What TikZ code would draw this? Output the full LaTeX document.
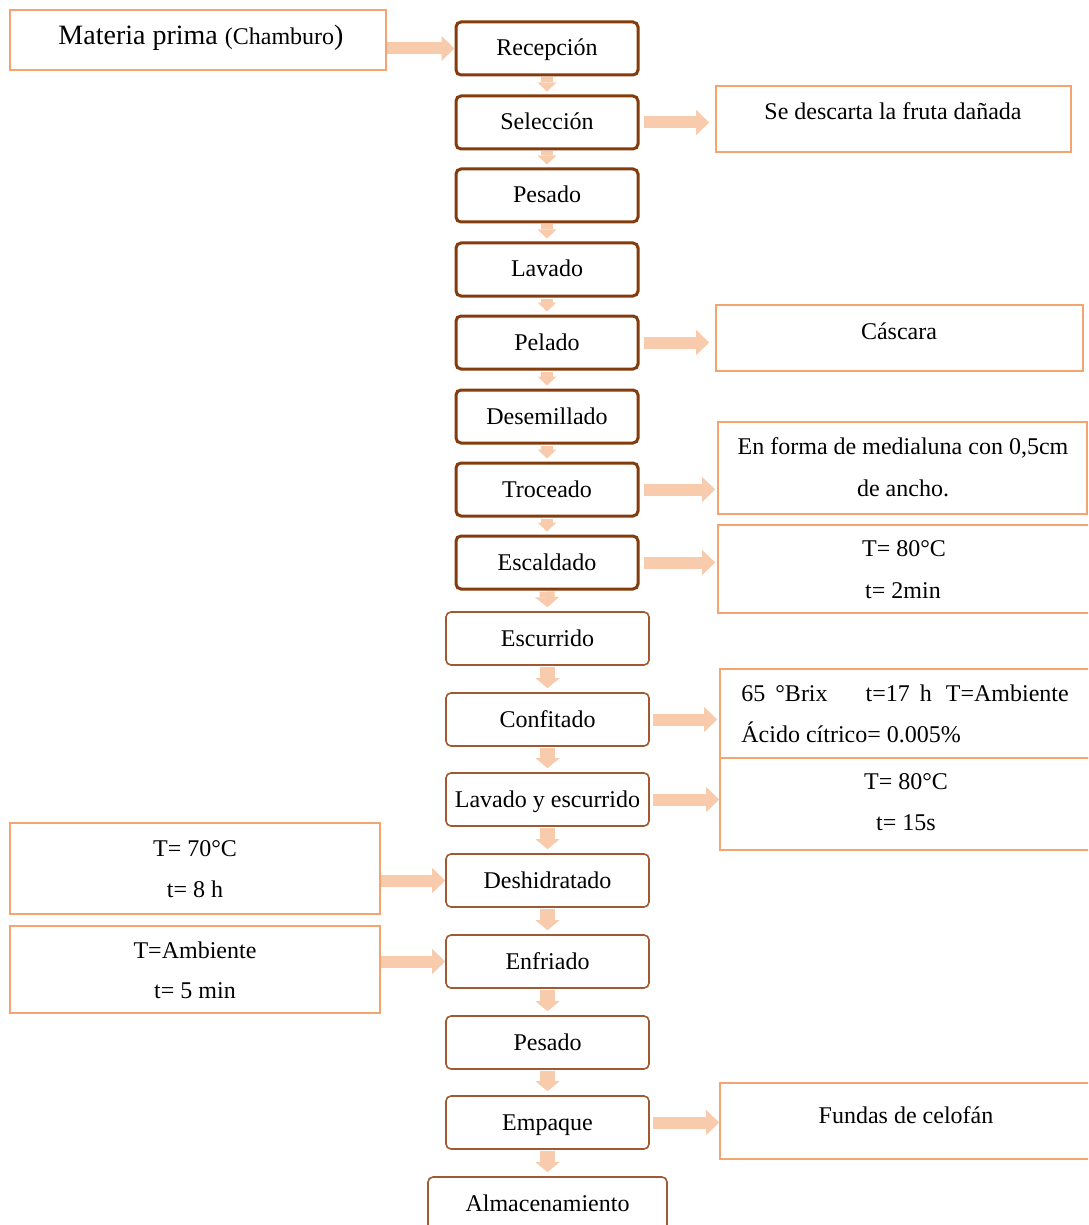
\documentclass[tikz,border=0pt]{standalone}
\usepackage{fontspec}
\setmainfont{Liberation Serif}
\usetikzlibrary{arrows.meta}
\definecolor{arrowc}{RGB}{248,203,173}
\definecolor{orangeb}{RGB}{244,164,110}
\definecolor{brownk}{RGB}{132,60,12}
\definecolor{brownl}{RGB}{160,90,50}
\begin{document}
\begin{tikzpicture}[x=0.5pt,y=-0.5pt,
  fnt/.style={font=\fontsize{12}{14}\selectfont},
  mainbox/.style={fnt, draw=brownk, line width=1.5pt, rounded corners=2.5pt,
    minimum width=91pt, minimum height=26.5pt, inner sep=0pt,
    text height=9.5pt, text depth=2pt},
  thinbox/.style={fnt, draw=brownl, line width=0.8pt, rounded corners=2.5pt,
    minimum width=101.5pt, minimum height=26.5pt, inner sep=0pt,
    text height=9.5pt, text depth=2pt},
  sidebox/.style={draw=orangeb, line width=0.8pt, inner sep=0pt},
  txt/.style={fnt, inner sep=0pt, anchor=base},
  harrow/.style={draw=arrowc, line width=6pt,
    -{Triangle[width=12.5pt,length=6.5pt,line width=0pt]}},
  varrow/.style={draw=arrowc, line width=6pt,
    -{Triangle[width=9.5pt,length=4.5pt,line width=0pt]}},
  varrowb/.style={draw=arrowc, line width=7.5pt,
    -{Triangle[width=12pt,length=5pt,line width=0pt]}},
]
\clip (0,0) rectangle (1088,1225);
\fill[white] (0,0) rectangle (1088,1225);

% main column
\node[mainbox] (r1) at (547,48.5) {Recepción};
\node[mainbox] (r2) at (547,122.5) {Selección};
\node[mainbox] (r3) at (547,195.5) {Pesado};
\node[mainbox] (r4) at (547,269.5) {Lavado};
\node[mainbox] (r5) at (547,342.5) {Pelado};
\node[mainbox] (r6) at (547,416.5) {Desemillado};
\node[mainbox] (r7) at (547,489.5) {Troceado};
\node[mainbox] (r8) at (547,562.5) {Escaldado};
\node[thinbox] (r9) at (547.5,638.5) {Escurrido};
\node[thinbox] (r10) at (547.5,719.5) {Confitado};
\node[thinbox] (r11) at (547.5,799.5) {Lavado y escurrido};
\node[thinbox] (r12) at (547.5,880.5) {Deshidratado};
\node[thinbox] (r13) at (547.5,961.5) {Enfriado};
\node[thinbox] (r14) at (547.5,1042.5) {Pesado};
\node[thinbox] (r15) at (547.5,1122.5) {Empaque};
\node[thinbox, minimum width=119.5pt] (r16) at (547.5,1203.5) {Almacenamiento};

% side boxes
\node[sidebox, minimum width=188pt, minimum height=30pt] (smat) at (198,40) {};
\node[sidebox, minimum width=177.5pt, minimum height=33pt] (sdesc) at (893.5,119) {};
\node[sidebox, minimum width=183.5pt, minimum height=33pt] (scasc) at (899.5,338) {};
\node[sidebox, minimum width=184.5pt, minimum height=46pt] (stroc) at (902.5,468) {};
\node[sidebox, minimum width=189pt, minimum height=44pt] (sesc) at (907,569) {};
\node[sidebox, minimum width=188pt, minimum height=44.5pt] (sconf) at (908,713.5) {};
\node[sidebox, minimum width=188pt, minimum height=46pt] (slav) at (908,804) {};
\node[sidebox, minimum width=185pt, minimum height=45.5pt] (sdesh) at (195,868.5) {};
\node[sidebox, minimum width=185pt, minimum height=43.5pt] (senf) at (195,969.5) {};
\node[sidebox, minimum width=188pt, minimum height=38pt] (semp) at (908,1121) {};

% side texts
\node[txt] (tmat) at (201,45) {\fontsize{14}{16}\selectfont Materia prima \fontsize{12}{14}\selectfont(Chamburo\fontsize{14}{16}\selectfont)};
\node[txt] (tdesc) at (893,120) {Se descarta la fruta dañada};
\node[txt] (tcasc) at (899,339) {Cáscara};
\node[txt] (ttroc1) at (903,454) {En forma de medialuna con 0,5cm};
\node[txt] (ttroc2) at (903,496) {de ancho.};
\node[txt] (tesc1) at (904,556) {T= 80°C};
\node[txt] (tesc2) at (903,598) {t= 2min};
\node[txt, anchor=base west] (tconf1) at (741,701) {65\hspace{5pt}°Brix\hspace{19pt}t=17\hspace{5pt}h\hspace{7pt}T=Ambiente};
\node[txt, anchor=base west] (tconf2) at (741,742) {Ácido cítrico= 0.005\%};
\node[txt] (tlav1) at (906,789) {T= 80°C};
\node[txt] (tlav2) at (906,830) {t= 15s};
\node[txt] (tdesh1) at (195,856) {T= 70°C};
\node[txt] (tdesh2) at (195,897) {t= 8 h};
\node[txt] (tenf1) at (195,958) {T=Ambiente};
\node[txt] (tenf2) at (195,998) {t= 5 min};
\node[txt] (temp) at (906,1123) {Fundas de celofán};

% vertical arrows
\foreach \a/\b in {r1/r2,r2/r3,r3/r4,r4/r5,r5/r6,r6/r7,r7/r8}
  \draw[varrow, shorten <=0.5pt, shorten >=1.5pt] (\a.south) -- (\b.north);
\foreach \a/\b in {r8/r9,r9/r10,r10/r11,r11/r12,r12/r13,r13/r14,r14/r15,r15/r16}
  \draw[varrowb, shorten <=0.5pt, shorten >=2pt] (\a.south) -- (\b.north);

% horizontal arrows
\draw[harrow] (smat.east |- r1.west) -- (r1.west);
\draw[harrow, shorten <=2pt, shorten >=3pt] (r2.east) -- (r2.east -| sdesc.west);
\draw[harrow, shorten <=2pt, shorten >=3pt] (r5.east) -- (r5.east -| scasc.west);
\draw[harrow, shorten <=2pt, shorten >=1pt] (r7.east) -- (r7.east -| stroc.west);
\draw[harrow, shorten <=2pt, shorten >=1pt] (r8.east) -- (r8.east -| sesc.west);
\draw[harrow, shorten <=1.5pt, shorten >=1pt] (r10.east) -- (r10.east -| sconf.west);
\draw[harrow, shorten <=1.5pt, shorten >=0pt] (r11.east) -- (r11.east -| slav.west);
\draw[harrow] (sdesh.east |- r12.west) -- (r12.west);
\draw[harrow] (senf.east |- r13.west) -- (r13.west);
\draw[harrow, shorten <=1.5pt, shorten >=0pt] (r15.east) -- (r15.east -| semp.west);
\end{tikzpicture}
\end{document}
